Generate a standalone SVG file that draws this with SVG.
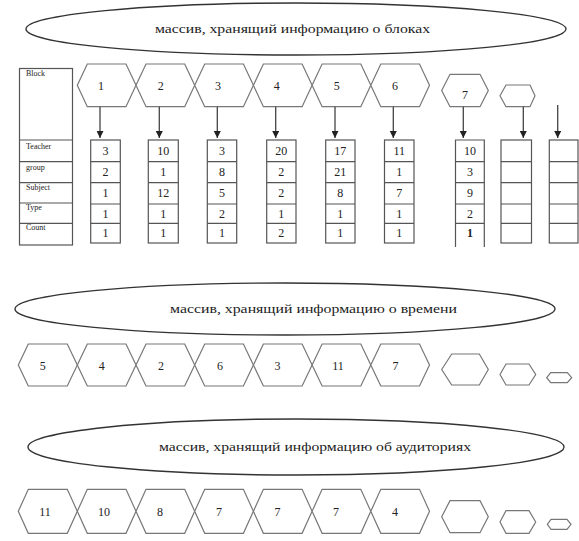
<svg xmlns="http://www.w3.org/2000/svg" width="579" height="541" viewBox="0 0 579 541">
<defs>
<style>
.bg{fill:#fff}
.ell{fill:#fff;stroke:#333;stroke-width:1.4}
.hex{fill:#fff;stroke:#777;stroke-width:1.2}
.box{fill:#fff;stroke:#555;stroke-width:1.2}
.ln{stroke:#555;stroke-width:1.2;fill:none}
.arr{stroke:#444;stroke-width:1.3;fill:none;marker-end:url(#ah)}
.t{font-family:"Liberation Serif","DejaVu Serif",serif;fill:#222}
.ttl{font-size:12.5px}
.num{font-size:12px;text-anchor:middle}
.lab{font-size:8px}
</style>
<marker id="ah" viewBox="0 0 7 7" refX="7" refY="3.5" markerWidth="7" markerHeight="7" markerUnits="userSpaceOnUse" orient="auto">
<path d="M0,0 L7,3.5 L0,7 Z" fill="#222"/>
</marker>
</defs>
<rect class="bg" width="579" height="541"/>

<g id="title-blocks">
<ellipse class="ell" cx="296" cy="29" rx="270" ry="26"/>
<text class="t ttl" x="155" y="33" textLength="275" lengthAdjust="spacingAndGlyphs">массив, хранящий информацию о блоках</text>
</g>

<g id="block-labels">
<rect class="box" x="19.5" y="68.5" width="53" height="176.5"/>
<line class="ln" x1="19.5" y1="140" x2="72.5" y2="140"/>
<line class="ln" x1="19.5" y1="161.7" x2="72.5" y2="161.7"/>
<line class="ln" x1="19.5" y1="182.7" x2="72.5" y2="182.7"/>
<line class="ln" x1="19.5" y1="203" x2="72.5" y2="203"/>
<line class="ln" x1="19.5" y1="223.3" x2="72.5" y2="223.3"/>
<text class="t lab" x="26" y="76">Block</text>
<text class="t lab" x="26" y="149">Teacher</text>
<text class="t lab" x="26" y="170">group</text>
<text class="t lab" x="26" y="190">Subject</text>
<text class="t lab" x="26" y="210">Type</text>
<text class="t lab" x="26" y="230">Count</text>
</g>

<g id="block-hexes">
<g id="bh1"><polygon class="hex" points="77.3,85.3 87.3,64 126,64 136,85.3 126,106.7 87.3,106.7"/><text class="t num" x="101" y="90">1</text></g>
<g id="bh2"><polygon class="hex" points="136,85.3 146,64 184.7,64 194.7,85.3 184.7,106.7 146,106.7"/><text class="t num" x="160.7" y="90">2</text></g>
<g id="bh3"><polygon class="hex" points="194.7,85.3 204.7,64 243.4,64 253.4,85.3 243.4,106.7 204.7,106.7"/><text class="t num" x="218" y="90">3</text></g>
<g id="bh4"><polygon class="hex" points="253.4,85.3 263.4,64 302.1,64 312.1,85.3 302.1,106.7 263.4,106.7"/><text class="t num" x="276.7" y="90">4</text></g>
<g id="bh5"><polygon class="hex" points="312.1,85.3 322.1,64 360.8,64 370.8,85.3 360.8,106.7 322.1,106.7"/><text class="t num" x="336.7" y="90">5</text></g>
<g id="bh6"><polygon class="hex" points="370.8,85.3 380.8,64 419.5,64 429.5,85.3 419.5,106.7 380.8,106.7"/><text class="t num" x="395" y="90">6</text></g>
<g id="bh7"><polygon class="hex" points="441.7,90.5 450,74.3 480,74.3 488.3,90.5 480,106.7 450,106.7"/><text class="t num" x="465" y="99">7</text></g>
<g id="bh8"><polygon class="hex" points="500,95.8 506,85 530,85 535,95.8 530,106.7 506,106.7"/></g>
</g>

<g id="connectors">
<line class="arr" x1="100" y1="106.7" x2="100" y2="138"/>
<line class="arr" x1="159.3" y1="106.7" x2="159.3" y2="138"/>
<line class="arr" x1="217.3" y1="106.7" x2="217.3" y2="138"/>
<line class="arr" x1="275.7" y1="106.7" x2="275.7" y2="138"/>
<line class="arr" x1="335" y1="106.7" x2="335" y2="138"/>
<line class="arr" x1="393.3" y1="106.7" x2="393.3" y2="138"/>
<line class="arr" x1="463.3" y1="106.7" x2="463.3" y2="138"/>
<line class="arr" x1="523.3" y1="106.7" x2="523.3" y2="138"/>
<line class="arr" x1="557.7" y1="105" x2="557.7" y2="138"/>
</g>

<g id="col1">
<rect class="box" x="90.7" y="140" width="29.6" height="103"/>
<path class="ln" d="M90.7,161.7H120.3M90.7,182.7H120.3M90.7,204H120.3M90.7,223.3H120.3"/>
<text class="t num" x="105.5" y="155">3</text><text class="t num" x="105.5" y="176">2</text><text class="t num" x="105.5" y="197">1</text><text class="t num" x="105.5" y="218">1</text><text class="t num" x="105.5" y="237">1</text>
</g>
<g id="col2">
<rect class="box" x="148.3" y="140" width="30" height="103"/>
<path class="ln" d="M148.3,161.7H178.3M148.3,182.7H178.3M148.3,204H178.3M148.3,223.3H178.3"/>
<text class="t num" x="163.3" y="155">10</text><text class="t num" x="163.3" y="176">1</text><text class="t num" x="163.3" y="197">12</text><text class="t num" x="163.3" y="218">1</text><text class="t num" x="163.3" y="237">1</text>
</g>
<g id="col3">
<rect class="box" x="207.3" y="140" width="29.4" height="103"/>
<path class="ln" d="M207.3,161.7H236.7M207.3,182.7H236.7M207.3,204H236.7M207.3,223.3H236.7"/>
<text class="t num" x="222" y="155">3</text><text class="t num" x="222" y="176">8</text><text class="t num" x="222" y="197">5</text><text class="t num" x="222" y="218">2</text><text class="t num" x="222" y="237">1</text>
</g>
<g id="col4">
<rect class="box" x="266.7" y="140" width="29.3" height="103"/>
<path class="ln" d="M266.7,161.7H296M266.7,182.7H296M266.7,204H296M266.7,223.3H296"/>
<text class="t num" x="281.3" y="155">20</text><text class="t num" x="281.3" y="176">2</text><text class="t num" x="281.3" y="197">2</text><text class="t num" x="281.3" y="218">1</text><text class="t num" x="281.3" y="237">2</text>
</g>
<g id="col5">
<rect class="box" x="325.7" y="140" width="29.3" height="103"/>
<path class="ln" d="M325.7,161.7H355M325.7,182.7H355M325.7,204H355M325.7,223.3H355"/>
<text class="t num" x="340.3" y="155">17</text><text class="t num" x="340.3" y="176">21</text><text class="t num" x="340.3" y="197">8</text><text class="t num" x="340.3" y="218">1</text><text class="t num" x="340.3" y="237">1</text>
</g>
<g id="col6">
<rect class="box" x="384.5" y="140" width="29.5" height="103"/>
<path class="ln" d="M384.5,161.7H414M384.5,182.7H414M384.5,204H414M384.5,223.3H414"/>
<text class="t num" x="399.2" y="155">11</text><text class="t num" x="399.2" y="176">1</text><text class="t num" x="399.2" y="197">7</text><text class="t num" x="399.2" y="218">1</text><text class="t num" x="399.2" y="237">1</text>
</g>
<g id="col7">
<path class="ln" d="M455.5,247V140H484.3V247M455.5,161.7H484.3M455.5,182.7H484.3M455.5,204H484.3M455.5,223.3H484.3"/>
<text class="t num" x="469.9" y="155">10</text><text class="t num" x="469.9" y="176">3</text><text class="t num" x="469.9" y="197">9</text><text class="t num" x="469.9" y="218">2</text><text class="t num" x="469.9" y="237" font-weight="bold">1</text>
</g>
<g id="col8">
<rect class="box" x="501" y="140" width="30.5" height="103"/>
<path class="ln" d="M501,161.7H531.5M501,182.7H531.5M501,204H531.5M501,223.3H531.5"/>
</g>
<g id="col9">
<rect class="box" x="549.3" y="140" width="28.7" height="103"/>
<path class="ln" d="M549.3,161.7H578M549.3,182.7H578M549.3,204H578M549.3,223.3H578"/>
</g>

<g id="title-time">
<ellipse class="ell" cx="285" cy="309" rx="270" ry="26"/>
<text class="t ttl" x="170" y="313" textLength="287" lengthAdjust="spacingAndGlyphs">массив, хранящий информацию о времени</text>
</g>

<g id="time-hexes">
<g id="th1"><polygon class="hex" points="18.3,365 28.3,344 67.3,344 77.3,365 67.3,386 28.3,386"/><text class="t num" x="42.7" y="370">5</text></g>
<g id="th2"><polygon class="hex" points="77.3,365 87.3,344 126,344 136,365 126,386 87.3,386"/><text class="t num" x="101.7" y="370">4</text></g>
<g id="th3"><polygon class="hex" points="136,365 146,344 184.7,344 194.7,365 184.7,386 146,386"/><text class="t num" x="161" y="370">2</text></g>
<g id="th4"><polygon class="hex" points="194.7,365 204.7,344 243.4,344 253.4,365 243.4,386 204.7,386"/><text class="t num" x="220" y="370">6</text></g>
<g id="th5"><polygon class="hex" points="253.4,365 263.4,344 302.1,344 312.1,365 302.1,386 263.4,386"/><text class="t num" x="277.5" y="370">3</text></g>
<g id="th6"><polygon class="hex" points="312.1,365 322.1,344 360.8,344 370.8,365 360.8,386 322.1,386"/><text class="t num" x="338" y="370">11</text></g>
<g id="th7"><polygon class="hex" points="370.8,365 380.8,344 419.5,344 429.5,365 419.5,386 380.8,386"/><text class="t num" x="395.5" y="370">7</text></g>
<g id="th8"><polygon class="hex" points="441.7,369.5 451.7,354 479.3,354 488.3,369.5 479.3,385 451.7,385"/></g>
<g id="th9"><polygon class="hex" points="500,374.5 506,364 529,364 535.7,374.5 529,385 506,385"/></g>
<g id="th10"><polygon class="hex" points="546.7,377.7 550.7,372.7 567.3,372.7 571.7,377.7 567.3,382.7 550.7,382.7"/></g>
</g>

<g id="title-rooms">
<ellipse class="ell" cx="296" cy="447" rx="268" ry="28"/>
<text class="t ttl" x="159" y="451" textLength="312" lengthAdjust="spacingAndGlyphs">массив, хранящий информацию об аудиториях</text>
</g>

<g id="room-hexes">
<g id="rh1"><polygon class="hex" points="18.3,511.3 28.3,489.3 67.3,489.3 77.3,511.3 67.3,533.3 28.3,533.3"/><text class="t num" x="45" y="516">11</text></g>
<g id="rh2"><polygon class="hex" points="77.3,511.3 87.3,489.3 126,489.3 136,511.3 126,533.3 87.3,533.3"/><text class="t num" x="104" y="516">10</text></g>
<g id="rh3"><polygon class="hex" points="136,511.3 146,489.3 184.7,489.3 194.7,511.3 184.7,533.3 146,533.3"/><text class="t num" x="160" y="516">8</text></g>
<g id="rh4"><polygon class="hex" points="194.7,511.3 204.7,489.3 243.4,489.3 253.4,511.3 243.4,533.3 204.7,533.3"/><text class="t num" x="219" y="516">7</text></g>
<g id="rh5"><polygon class="hex" points="253.4,511.3 263.4,489.3 302.1,489.3 312.1,511.3 302.1,533.3 263.4,533.3"/><text class="t num" x="277.5" y="516">7</text></g>
<g id="rh6"><polygon class="hex" points="312.1,511.3 322.1,489.3 360.8,489.3 370.8,511.3 360.8,533.3 322.1,533.3"/><text class="t num" x="336" y="516">7</text></g>
<g id="rh7"><polygon class="hex" points="370.8,511.3 380.8,489.3 419.5,489.3 429.5,511.3 419.5,533.3 380.8,533.3"/><text class="t num" x="395" y="516">4</text></g>
<g id="rh8"><polygon class="hex" points="441.7,516.7 450,500.7 480,500.7 488.3,516.7 480,532.7 450,532.7"/></g>
<g id="rh9"><polygon class="hex" points="500,522 506,510.7 529,510.7 535.7,522 529,533.3 506,533.3"/></g>
<g id="rh10"><polygon class="hex" points="547.3,524.3 551,519.3 567,519.3 571,524.3 567,529.3 551,529.3"/></g>
</g>
</svg>
